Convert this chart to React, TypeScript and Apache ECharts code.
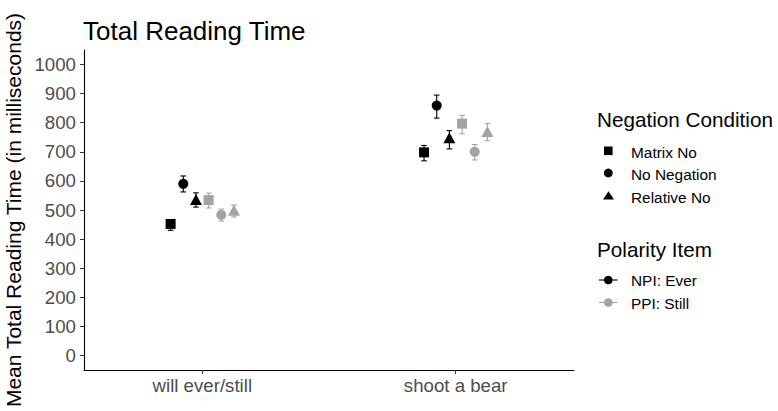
import React, { useEffect, useRef } from "react";
import * as echarts from "echarts";

const categories = ["will ever/still", "shoot a bear"];
const negations = ["Matrix No", "No Negation", "Relative No"];
const polarities = ["NPI: Ever", "PPI: Still"];
const yTicks = [0, 100, 200, 300, 400, 500, 600, 700, 800, 900, 1000];

// means per negation condition, per category
const npiMeans = [
  [452, 698],
  [590, 859],
  [536, 748],
];
const npiLow = [
  [430, 669],
  [562, 816],
  [510, 710],
];
const npiHigh = [
  [467, 722],
  [617, 895],
  [559, 773],
];
const ppiMeans = [
  [534, 797],
  [483, 700],
  [499, 770],
];
const ppiLow = [
  [507, 762],
  [462, 672],
  [476, 738],
];
const ppiHigh = [
  [558, 825],
  [503, 725],
  [517, 797],
];

const colors = ["#000000", "#A3A3A3"];
const symbols = ["rect", "circle", "triangle"];
const symbolSizes: any[] = [10, 10, [12, 11]];
const dodge = 0.05;

export default function App() {
  const ref = useRef<HTMLDivElement>(null);
  useEffect(() => {
    const chart = echarts.init(ref.current!, undefined, { renderer: "svg" });
    const font = "'Liberation Sans', Arial, sans-serif";
    const series: any[] = [];
    const polData = [
      { means: npiMeans, low: npiLow, high: npiHigh },
      { means: ppiMeans, low: ppiLow, high: ppiHigh },
    ];
    polData.forEach((pd, p) => {
      negations.forEach((neg, n) => {
        const k = p * 3 + n;
        const off = (k - 2.5) * dodge;
        const errData = categories.map((c, ci) => [ci + 1 + off, pd.low[n][ci], pd.high[n][ci]]);
        series.push({
          type: "custom",
          name: polarities[p] + " " + neg + " err",
          data: errData,
          z: 2,
          renderItem: (params: any, api: any) => {
            const x = api.value(0);
            const lo = api.coord([x, api.value(1)]);
            const hi = api.coord([x, api.value(2)]);
            const hw = 2.8;
            const style = { stroke: colors[p], lineWidth: 1.1 };
            return {
              type: "group",
              children: [
                { type: "line", shape: { x1: lo[0], y1: lo[1], x2: hi[0], y2: hi[1] }, style },
                { type: "line", shape: { x1: lo[0] - hw, y1: lo[1], x2: lo[0] + hw, y2: lo[1] }, style },
                { type: "line", shape: { x1: hi[0] - hw, y1: hi[1], x2: hi[0] + hw, y2: hi[1] }, style },
              ],
            };
          },
        });
        series.push({
          type: "scatter",
          name: polarities[p] + " " + neg,
          data: categories.map((c, ci) => [ci + 1 + off, pd.means[n][ci]]),
          symbol: symbols[n],
          symbolSize: symbolSizes[n],
          itemStyle: { color: colors[p], opacity: 1 },
          z: 3,
        });
      });
    });

    const itemFont = `15.4px ${font}`;
    const titleFont = `20.7px ${font}`;
    const graphic: any[] = [
      { type: "text", x: 597, y: 119, style: { text: "Negation Condition", font: titleFont, fill: "#000", verticalAlign: "middle" } },
      { type: "rect", shape: { x: 604, y: 146.5, width: 8.6, height: 8.6 }, style: { fill: "#000" } },
      { type: "circle", shape: { cx: 608.3, cy: 173, r: 4.4 }, style: { fill: "#000" } },
      { type: "polygon", shape: { points: [[608.5, 191.2], [614, 199.5], [603, 199.5]] }, style: { fill: "#000" } },
      { type: "text", x: 597, y: 249, style: { text: "Polarity Item", font: titleFont, fill: "#000", verticalAlign: "middle" } },
      { type: "line", shape: { x1: 599, y1: 280, x2: 617.5, y2: 280 }, style: { stroke: "#000", lineWidth: 1.1 } },
      { type: "circle", shape: { cx: 608.3, cy: 280, r: 4.3 }, style: { fill: "#000" } },
      { type: "line", shape: { x1: 599, y1: 302.5, x2: 617.5, y2: 302.5 }, style: { stroke: colors[1], lineWidth: 1.1 } },
      { type: "circle", shape: { cx: 608.3, cy: 302.5, r: 4.3 }, style: { fill: colors[1] } },
    ];
    negations.forEach((neg, i) => {
      graphic.push({ type: "text", x: 631, y: 152 + i * 22.6, style: { text: neg, font: itemFont, fill: "#000", verticalAlign: "middle" } });
    });
    polarities.forEach((pol, i) => {
      graphic.push({ type: "text", x: 631, y: 280.5 + i * 22.5, style: { text: pol, font: itemFont, fill: "#000", verticalAlign: "middle" } });
    });

    chart.setOption({
      animation: false,
      backgroundColor: "#fff",
      title: {
        text: "Total Reading Time",
        left: 78,
        top: 13,
        textStyle: { fontFamily: font, fontSize: 26, fontWeight: "normal", color: "#000" },
      },
      grid: { left: 84, top: 50, right: 204, bottom: 41, containLabel: false, outerBoundsMode: "none" },
      xAxis: {
        type: "value",
        min: 0.5333,
        max: 2.4667,
        splitLine: { show: false },
        axisLine: { show: true, onZero: false, lineStyle: { color: "#000", width: 1.1 } },
        axisTick: { show: true, customValues: [1, 2], length: 4, lineStyle: { color: "#333" } },
        axisLabel: {
          customValues: [1, 2],
          formatter: (v: number) => categories[Math.round(v) - 1] ?? "",
          fontFamily: font,
          fontSize: 18.67,
          color: "#4D4D4D",
          margin: 6,
        },
      },
      yAxis: {
        type: "value",
        min: -50,
        max: 1050,
        name: "Mean Total Reading Time (in milliseconds)",
        nameLocation: "middle",
        nameRotate: 90,
        nameGap: 56,
        nameTextStyle: { fontFamily: font, fontSize: 21, color: "#000" },
        splitLine: { show: false },
        axisLine: { show: true, onZero: false, lineStyle: { color: "#000", width: 1.1 } },
        axisTick: { show: true, customValues: yTicks, length: 4, lineStyle: { color: "#333" } },
        axisLabel: {
          customValues: yTicks,
          formatter: (v: number) => String(v),
          fontFamily: font,
          fontSize: 18.67,
          color: "#4D4D4D",
          margin: 8,
        },
      },
      series,
      graphic,
    });
    return () => chart.dispose();
  }, []);
  return <div ref={ref} style={{ position: "fixed", left: 0, top: 0, width: 778, height: 411 }} />;
}
